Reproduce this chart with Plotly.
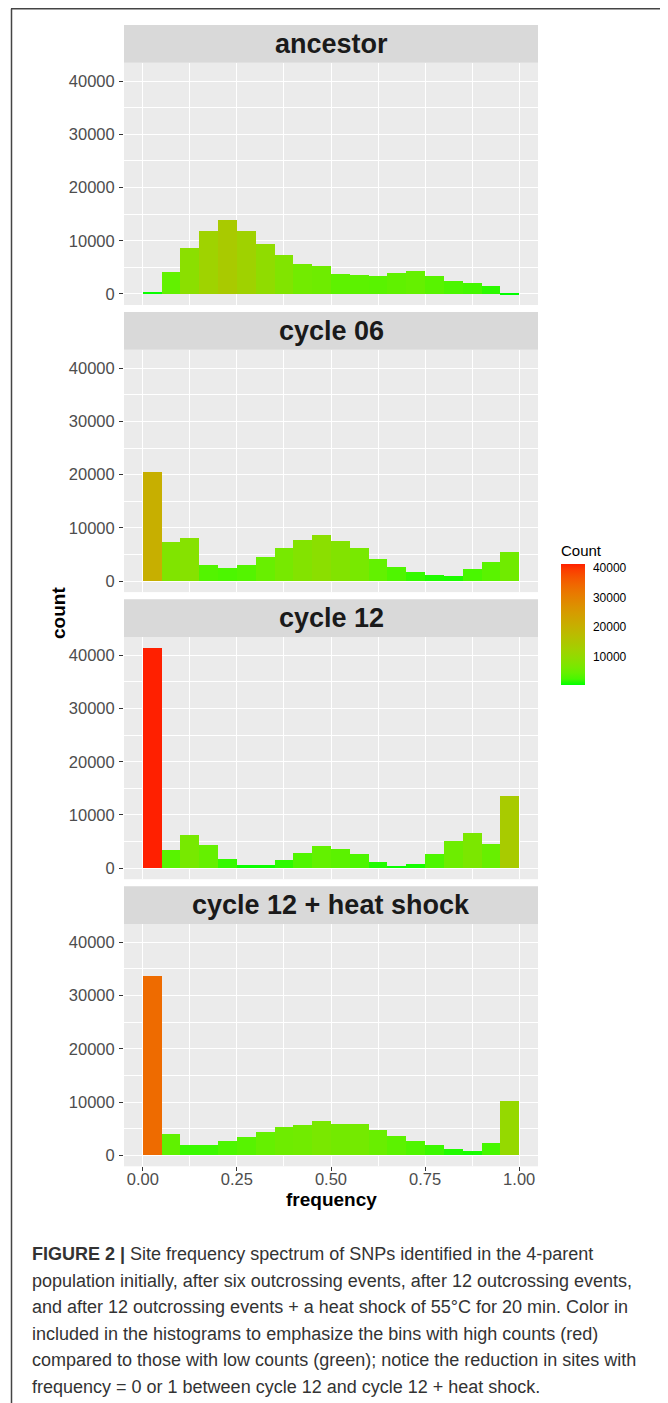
import plotly.graph_objects as go

# ---------------- data ----------------
panel_names = ["ancestor", "cycle 06", "cycle 12", "cycle 12 + heat shock"]
bin_centers = [0.025, 0.075, 0.125, 0.175, 0.225, 0.275, 0.325, 0.375, 0.425, 0.475,
               0.525, 0.575, 0.625, 0.675, 0.725, 0.775, 0.825, 0.875, 0.925, 0.975]
bin_width = 0.05
ancestor = [500, 4150, 8740, 11820, 13900, 11950, 9500, 7420, 5660, 5280,
            3840, 3710, 3520, 4030, 4400, 3460, 2520, 2200, 1510, 250]
cycle06 = [20440, 7360, 8050, 3080, 2580, 3140, 4650, 6230, 7740, 8740,
           7610, 6290, 4210, 2770, 1760, 1190, 1070, 2390, 3580, 5530]
cycle12 = [41380, 3460, 6230, 4340, 1760, 570, 630, 1570, 2890, 4210,
           3650, 2640, 1190, 500, 880, 2640, 5220, 6670, 4590, 13650]
heat_shock = [33710, 4030, 1890, 1950, 2640, 3400, 4340, 5280, 5600, 6420,
              5790, 5910, 4780, 3710, 2770, 1950, 1190, 880, 2260, 10250]
x_ticks = [0.0, 0.25, 0.5, 0.75, 1.0]
x_ticklabels = ["0.00", "0.25", "0.50", "0.75", "1.00"]
y_ticks = [0, 10000, 20000, 30000, 40000]
y_ticklabels = ["0", "10000", "20000", "30000", "40000"]
legend_ticks = [10000, 20000, 30000, 40000]
legend_ticklabels = ["10000", "20000", "30000", "40000"]
caption_lines = [
    "<b>FIGURE 2 |</b> Site frequency spectrum of SNPs identified in the 4-parent",
    "population initially, after six outcrossing events, after 12 outcrossing events,",
    "and after 12 outcrossing events + a heat shock of 55°C for 20 min. Color in",
    "included in the histograms to emphasize the bins with high counts (red)",
    "compared to those with low counts (green); notice the reduction in sites with",
    "frequency = 0 or 1 between cycle 12 and cycle 12 + heat shock.",
]
series = [ancestor, cycle06, cycle12, heat_shock]

# ---------------- colour scale (ggplot-like Lab interpolation green -> red) ----------------
def _lin(c):
    c = c / 255.0
    return c / 12.92 if c <= 0.04045 else ((c + 0.055) / 1.055) ** 2.4

def _delin(c):
    c = 12.92 * c if c <= 0.0031308 else 1.055 * c ** (1 / 2.4) - 0.055
    return max(0, min(255, round(c * 255)))

WN = (0.95047, 1.0, 1.08883)

def rgb2lab(rgb):
    r, g, b = (_lin(v) for v in rgb)
    X = 0.4124 * r + 0.3576 * g + 0.1805 * b
    Y = 0.2126 * r + 0.7152 * g + 0.0722 * b
    Z = 0.0193 * r + 0.1192 * g + 0.9505 * b
    def f(t):
        return t ** (1 / 3) if t > 0.008856 else 7.787 * t + 16 / 116
    fx, fy, fz = f(X / WN[0]), f(Y / WN[1]), f(Z / WN[2])
    return (116 * fy - 16, 500 * (fx - fy), 200 * (fy - fz))

def lab2rgb(lab):
    L, a, b = lab
    fy = (L + 16) / 116
    fx = fy + a / 500
    fz = fy - b / 200
    def finv(t):
        return t ** 3 if t ** 3 > 0.008856 else (t - 16 / 116) / 7.787
    X, Y, Z = finv(fx) * WN[0], finv(fy) * WN[1], finv(fz) * WN[2]
    r = 3.2406 * X - 1.5372 * Y - 0.4986 * Z
    g = -0.9689 * X + 1.8758 * Y + 0.0415 * Z
    bb = 0.0557 * X - 0.2040 * Y + 1.0570 * Z
    return tuple(_delin(max(0.0, v)) for v in (r, g, bb))

low, high = rgb2lab((0, 255, 0)), rgb2lab((255, 32, 0))
colorscale = []
NS = 20
for k in range(NS + 1):
    t = k / NS
    lab = tuple(low[j] + (high[j] - low[j]) * t for j in range(3))
    r, g, b = lab2rgb(lab)
    colorscale.append([t, f"rgb({r},{g},{b})"])

all_counts = [v for s in series for v in s]
cmin, cmax = min(all_counts), max(all_counts)

# ---------------- layout geometry (window pixels; page body has an 8px margin) ----------------
OX, OY = 8, 8
W, H = 660, 1395


def xp(px):
    return (px - OX) / W


def yp(py):
    return 1 - (py - OY) / H


px_left, px_right = 124, 538
top0, strip_h, panel_h, step = 25.0, 37.7, 242.3, 287.1
ymax = max(all_counts)
yrange = [-0.05 * ymax, 1.05 * ymax]

FONT = "Liberation Sans, Arial, Helvetica, sans-serif"

fig = go.Figure()
shapes = []
annotations = []
layout_axes = {}

for i, (name, vals) in enumerate(zip(panel_names, series)):
    n = "" if i == 0 else str(i + 1)
    top = top0 + i * step
    strip_b = top + strip_h
    panel_b = strip_b + panel_h
    fig.add_trace(go.Bar(
        x=bin_centers, y=vals, width=[bin_width] * len(vals),
        marker=dict(color=vals, coloraxis="coloraxis", line=dict(width=0)),
        xaxis="x" + n, yaxis="y" + n, showlegend=False,
        hovertemplate="%{x}: %{y}<extra></extra>",
    ))
    last = i == len(series) - 1
    layout_axes["xaxis" + n] = dict(
        domain=[xp(px_left), xp(px_right)], anchor="y" + n,
        range=[-0.05, 1.05], tickvals=x_ticks, ticktext=x_ticklabels,
        showticklabels=last, ticks="outside" if last else "", ticklen=4,
        tickcolor="#333333", tickwidth=1, ticklabelstandoff=-6,
        tickfont=dict(family=FONT, size=16.5, color="#4D4D4D"),
        showgrid=True, gridcolor="white", gridwidth=1.4, zeroline=False,
        showline=False,
        minor=dict(tickvals=[0.125, 0.375, 0.625, 0.875], showgrid=True,
                   gridcolor="white", gridwidth=0.6, ticks=""),
        fixedrange=True,
    )
    layout_axes["yaxis" + n] = dict(
        domain=[yp(panel_b), yp(strip_b)], anchor="x" + n,
        range=yrange, tickvals=y_ticks, ticktext=y_ticklabels,
        ticks="outside", ticklen=4, tickcolor="#333333", tickwidth=1,
        ticklabelstandoff=1,
        tickfont=dict(family=FONT, size=16.5, color="#4D4D4D"),
        showgrid=True, gridcolor="white", gridwidth=1.4, zeroline=False,
        showline=False,
        minor=dict(tickvals=[5000, 15000, 25000, 35000], showgrid=True,
                   gridcolor="white", gridwidth=0.6, ticks=""),
        fixedrange=True,
    )
    shapes.append(dict(type="rect", xref="paper", yref="paper",
                       x0=xp(px_left), x1=xp(px_right),
                       y0=yp(strip_b), y1=yp(top),
                       fillcolor="#D9D9D9", line=dict(width=0), layer="below"))
    annotations.append(dict(
        text="<b>" + name + "</b>", xref="paper", yref="paper",
        x=xp((px_left + px_right) / 2), y=yp((top + strip_b) / 2),
        xanchor="center", yanchor="middle", showarrow=False,
        font=dict(family=FONT, size=27, color="#1A1A1A"),
    ))

# axis titles
annotations.append(dict(text="<b>count</b>", xref="paper", yref="paper",
                        x=xp(58), y=yp(613), textangle=-90, showarrow=False,
                        xanchor="center", yanchor="middle",
                        font=dict(family=FONT, size=19, color="black")))
annotations.append(dict(text="<b>frequency</b>", xref="paper", yref="paper",
                        x=xp(331), y=yp(1199), showarrow=False,
                        xanchor="center", yanchor="middle",
                        font=dict(family=FONT, size=19, color="black")))

# caption
for k, line in enumerate(caption_lines):
    annotations.append(dict(text=line, xref="paper", yref="paper",
                            x=xp(30), y=yp(1254 + 26.6 * k), showarrow=False,
                            xanchor="left", yanchor="middle", align="left",
                            font=dict(family=FONT, size=18, color="#333333")))

# page border (top and left)
shapes.append(dict(type="line", xref="paper", yref="paper",
                   x0=xp(11), x1=1, y0=yp(8.7), y1=yp(8.7),
                   line=dict(color="#444444", width=1.5)))
shapes.append(dict(type="line", xref="paper", yref="paper",
                   x0=xp(11.5), x1=xp(11.5), y0=0, y1=yp(8.7),
                   line=dict(color="#444444", width=1.5)))

fig.update_layout(
    width=W, height=H,
    margin=dict(l=0, r=0, t=0, b=0),
    paper_bgcolor="white", plot_bgcolor="#EBEBEB",
    bargap=0, barmode="overlay",
    font=dict(family=FONT),
    shapes=shapes, annotations=annotations,
    coloraxis=dict(
        colorscale=colorscale, cmin=cmin, cmax=cmax,
        colorbar=dict(
            title=dict(text="Count", side="top",
                       font=dict(family=FONT, size=15, color="black")),
            x=xp(561), xanchor="left", xpad=0,
            y=yp(685), yanchor="bottom", ypad=0,
            len=143, lenmode="pixels", thickness=24, thicknessmode="pixels",
            tickvals=legend_ticks, ticktext=legend_ticklabels,
            ticks="outside", ticklen=6, tickcolor="rgba(255,255,255,0)", tickwidth=1,
            tickfont=dict(family=FONT, size=12, color="black"),
            outlinewidth=0,
        ),
    ),
    **layout_axes,
)

fig.write_html("out.html")
